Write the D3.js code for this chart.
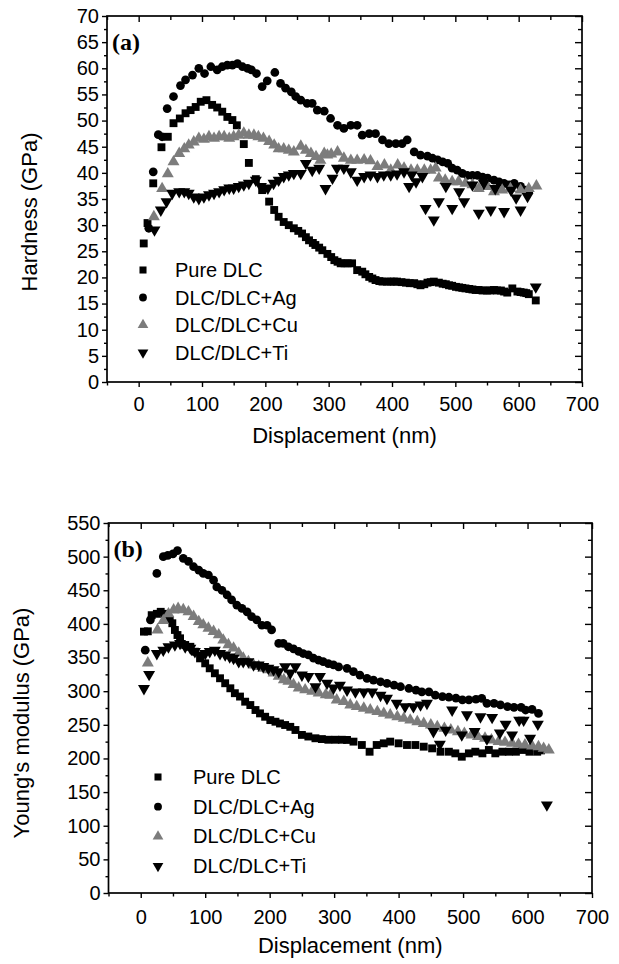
<!DOCTYPE html>
<html><head><meta charset="utf-8">
<script src="https://cdn.jsdelivr.net/npm/d3@7"></script>
<style>body{margin:0;background:#fff;} svg{display:block;}</style>
</head><body>
<svg id="c" width="619" height="964"></svg>
<script>
// ---------- data ----------
const seriesNames = ["Pure DLC", "DLC/DLC+Ag", "DLC/DLC+Cu", "DLC/DLC+Ti"];
const xTickValues = [0, 100, 200, 300, 400, 500, 600, 700];
const xMinorValues = [-50, 50, 150, 250, 350, 450, 550, 650];
const hardnessTicks = [0, 5, 10, 15, 20, 25, 30, 35, 40, 45, 50, 55, 60, 65, 70];
const modulusTicks = [0, 50, 100, 150, 200, 250, 300, 350, 400, 450, 500, 550];

// Panel (a): hardness (GPa) vs displacement (nm)
const hPure = [[8,26.5],[14,30.4],[23,38],[36,44.9],[46,46.9],[55,49.5],[65,50.4],[74,51.4],[82,52],[90,52.6],[98,53.6],[107,53.9],[116,53],[124,52.5],[132,51.7],[140,50.7],[148,50.1],[155,49.1],[166,45.5],[174,41.9],[185,38.8],[195,36.7],[206,34.5],[214,32.9],[221,31.6],[229,30.6],[237,30],[245,29.4],[252,28.9],[258,28.4],[264,27.7],[269,27.1],[275,26.6],[279,26.2],[285,25.7],[290,25.2],[298,24.5],[304,23.9],[309,23.3],[314,23],[319,22.7],[325,22.7],[330,22.7],[337,22.7],[345,21.4],[353,21.1],[358,20.6],[364,20.1],[369,19.8],[374,19.5],[380,19.3],[385,19.2],[392,19.2],[398,19.2],[403,19.2],[408,19.2],[415,19.1],[422,19],[428,18.9],[435,18.9],[440,18.7],[445,18.5],[451,18.7],[456,19],[461,19.1],[466,19.2],[474,19],[480,18.8],[485,18.7],[490,18.5],[495,18.4],[501,18.2],[506,18.1],[511,18],[516,17.9],[522,17.8],[527,17.7],[532,17.6],[537,17.6],[543,17.5],[550,17.5],[555,17.5],[561,17.6],[566,17.5],[572,17.5],[577,17.3],[582,17.1],[590,17.9],[598,17.3],[603,17.2],[608,17.1],[612,17],[616,16.8],[627,15.6]];
const hAg = [[16,29.4],[23,40.2],[31,47.3],[37,46.9],[45,52.3],[55,54.6],[66,56.7],[74,57.8],[85,58.7],[95,60],[104,59],[114,60.3],[124,59.7],[132,60.3],[140,60.6],[148,60.6],[156,60.9],[164,60.3],[172,60],[178,59.7],[186,59],[195,56.5],[203,57.6],[215,59.2],[224,57.1],[232,56.2],[241,55.5],[248,54.6],[256,53.9],[266,53.3],[274,53.3],[282,52],[293,51.8],[303,50.4],[314,49.1],[324,48.5],[335,49.1],[345,49.1],[353,47.2],[364,47.5],[374,47.5],[385,46.3],[395,45.6],[406,45.6],[416,45.6],[424,46.3],[435,44],[445,43.4],[456,43.2],[464,42.8],[472,42.5],[480,42.1],[488,41.8],[495,40.9],[503,40.5],[511,39.9],[519,39.5],[527,39.5],[535,39.5],[543,39.2],[551,39],[561,38.6],[569,38.3],[577,38],[585,37.7],[593,38],[603,37.4],[611,36.7],[616,36.4]];
const hCu = [[24,31.6],[37,37],[46,39.8],[55,42.1],[64,43.7],[72,44.6],[79,45.3],[87,45.9],[95,46.6],[103,46.4],[111,46.9],[119,46.6],[127,46.9],[135,46.9],[143,46.6],[150,46.9],[158,47.2],[166,47.6],[174,47.2],[182,47.2],[189,46.9],[197,46.6],[206,46],[214,45.3],[221,44.6],[229,44.6],[237,44.3],[245,44],[256,45.1],[264,44.3],[272,43.7],[280,43.1],[287,42.4],[293,43.7],[298,43.4],[304,43.6],[314,44],[324,42.8],[335,42.4],[345,42.4],[356,42.5],[366,42.3],[377,41.2],[388,41.5],[398,40.5],[409,41.5],[419,40.9],[430,40.5],[440,40.5],[451,40.5],[461,40.5],[469,40.9],[474,39],[484,38.6],[495,38.3],[505,38.3],[516,38],[527,37.7],[537,37],[551,37.4],[561,36.4],[574,36.7],[587,37],[603,36.7],[616,37],[628,37.5]];
const hTi = [[25,29.1],[35,32.9],[44,34.5],[53,36.1],[64,36.4],[72,36.4],[79,36.1],[87,35.4],[95,35.1],[103,35.4],[111,35.8],[119,36.1],[127,36.4],[135,36.8],[143,37.1],[150,37.1],[158,37.4],[166,37.7],[174,38],[185,38.6],[193,37.4],[204,37.1],[213,38],[221,38.6],[229,39.3],[237,39.6],[245,39.9],[256,39.9],[264,41.8],[274,40.5],[285,40.9],[295,37],[306,39],[313,40.9],[324,40.9],[335,40.2],[345,38.6],[356,39.3],[366,39.6],[377,39.3],[387,39.6],[398,39.6],[408,39.8],[419,40.2],[427,37.4],[431,39.6],[438,38.3],[448,39.3],[453,33.2],[466,31],[474,34.5],[485,37.4],[495,33.2],[506,36.4],[514,34.5],[527,37.7],[537,32.3],[545,38],[556,32.9],[563,37],[577,32.6],[588,36.7],[596,35.2],[603,32.9],[614,35.5],[627,18.2]];

// Panel (b): Young's modulus (GPa) vs displacement (nm)
const ePure = [[5,388.5],[11,389],[17,413],[25,415],[31,418],[37,415],[45,406],[49,401],[53,391],[57,383.5],[61,378.6],[69,368.7],[77,366],[84,358.7],[92,348.8],[100,341.4],[107,334],[115,326.6],[123,319.2],[131,311.8],[139,304.3],[146,297],[154,292],[162,284.4],[170,279.4],[178,272],[185,267],[193,262],[201,257],[209,254.6],[216,252],[224,249.7],[232,247],[240,242.3],[250,235],[260,232.6],[271,230],[281,228.8],[291,227.8],[302,227.8],[312,227.8],[320,227.5],[330,225],[343,220],[355,210],[366,220],[377,222.5],[387,225],[400,222.5],[413,220],[426,220],[439,217.5],[452,215],[465,210],[478,210],[488,207.6],[498,202.6],[509,207.6],[519,210],[530,207.6],[540,212.6],[550,207.6],[561,210],[571,210],[582,210],[592,212.6],[603,210],[615,210],[621,212]];
const eAg = [[7,361],[15,406],[25,475],[35,500],[42,502],[50,504],[57,509],[66,497.5],[74,493],[82,485],[90,480],[97,475],[105,472.7],[113,465],[118,455],[126,450],[134,443],[141,435.6],[149,428],[157,423],[165,418],[172,410.7],[180,406],[188,398],[196,398],[203,391],[214,371],[221,371],[229,366],[237,363],[245,359],[252,356],[260,354],[268,349],[276,346],[283,344],[291,341],[299,339],[307,336],[320,334],[330,329],[340,324],[351,319],[361,316.5],[372,314],[382,311.5],[393,309],[403,306.6],[416,304],[427,301.6],[436,299],[447,299],[457,294],[468,292],[478,291],[489,289.6],[499,287],[509,287],[520,288],[529,289.4],[537,282],[548,282],[558,279.6],[569,277],[579,276],[590,276],[597,272],[607,273],[617,267]];
const eCu = [[11,342],[26,391],[35,405],[43,415],[51,420.7],[58,423],[66,421],[74,418],[82,411],[90,403.5],[97,398.6],[105,393.6],[113,388.7],[121,383.7],[128,376],[136,369],[144,364],[152,356.7],[159,349],[167,344],[175,339],[183,336.7],[190,334],[198,331.8],[206,326.9],[214,322],[222,317],[229,314.6],[237,309.7],[245,304.7],[255,302],[266,300],[276,297.3],[287,294.8],[294,294],[304,287],[315,284.7],[325,279.5],[335,277],[346,274.6],[356,272],[367,269.6],[377,267],[387,264.6],[398,262],[408,259.6],[418,257],[429,254.6],[439,252],[450,249.7],[460,247.2],[471,244.7],[481,242.3],[492,239.8],[502,237.3],[513,234.8],[523,232.4],[534,230],[544,227.4],[555,225],[565,224],[576,222.5],[586,221],[596,220],[607,218.5],[617,217.5],[625,215],[633,212.6]];
const eTi = [[5,304],[13,325],[25,356],[35,361],[43,366],[53,368.7],[61,371],[69,366],[77,364],[84,359],[92,354],[100,356],[107,359],[115,361],[123,356],[131,354],[138,351],[144,349],[152,344],[159,344],[167,344],[175,339],[183,339],[190,336.7],[198,334],[206,332],[214,329],[224,336.4],[232,327],[240,336.4],[250,324],[260,322],[271,306.7],[278,322],[289,312],[299,304.7],[309,309],[320,301.8],[333,299],[346,299],[359,299],[372,294],[382,289.4],[397,282],[410,277],[423,277],[434,279.6],[444,282],[454,240],[464,221],[473,242],[483,272],[498,235],[506,265],[518,240],[527,262],[537,229],[545,261],[557,238],[566,251],[576,235],[587,257],[594,257],[604,230],[616,251],[630,131]];

// ---------- drawing ----------
const svg = d3.select("#c");
const FONT = "'Liberation Sans', Arial, Helvetica, sans-serif";
const GRAY = "#7c7c7c";

const markerDefs = [
  {type: d3.symbolSquare, size: 62, fill: "#000", rot: 0},
  {type: d3.symbolCircle, size: 60, fill: "#000", rot: 0},
  {type: d3.symbolTriangle, size: 62, fill: GRAY, rot: 0},
  {type: d3.symbolTriangle, size: 62, fill: "#000", rot: 180}
];

function drawPanel(p) {
  const x = d3.scaleLinear().domain([-50, 700]).range([p.left, p.right]);
  const y = d3.scaleLinear().domain([0, p.yMax]).range([p.bottom, p.top]);
  const g = svg.append("g");

  function styleAxis(sel) {
    sel.select(".domain").remove();
    sel.selectAll("line").attr("stroke", "#000").attr("stroke-width", 1.4);
    sel.selectAll("text").attr("font-family", FONT).attr("font-size", 20).attr("fill", "#000");
  }

  const minorY = p.yTicks.slice(0, -1).map(v => v + p.yMinorStep);

  // bottom
  g.append("g").attr("transform", `translate(0,${p.bottom})`)
    .call(d3.axisBottom(x).tickValues(xTickValues).tickSize(5).tickPadding(p.xPad).tickSizeOuter(0))
    .call(styleAxis);
  g.append("g").attr("transform", `translate(0,${p.bottom})`)
    .call(d3.axisBottom(x).tickValues(xMinorValues).tickSize(3.5).tickFormat("").tickSizeOuter(0))
    .call(styleAxis);
  // top (inward)
  g.append("g").attr("transform", `translate(0,${p.top})`)
    .call(d3.axisTop(x).tickValues(xTickValues).tickSize(-6).tickFormat("").tickSizeOuter(0))
    .call(styleAxis);
  g.append("g").attr("transform", `translate(0,${p.top})`)
    .call(d3.axisTop(x).tickValues(xMinorValues).tickSize(-4).tickFormat("").tickSizeOuter(0))
    .call(styleAxis);
  // left
  g.append("g").attr("transform", `translate(${p.left},0)`)
    .call(d3.axisLeft(y).tickValues(p.yTicks).tickSize(5).tickPadding(3).tickSizeOuter(0))
    .call(styleAxis);
  g.append("g").attr("transform", `translate(${p.left},0)`)
    .call(d3.axisLeft(y).tickValues(minorY).tickSize(3).tickFormat("").tickSizeOuter(0))
    .call(styleAxis);
  // right (inward)
  g.append("g").attr("transform", `translate(${p.right},0)`)
    .call(d3.axisRight(y).tickValues(p.yTicks).tickSize(-7).tickFormat("").tickSizeOuter(0))
    .call(styleAxis);
  g.append("g").attr("transform", `translate(${p.right},0)`)
    .call(d3.axisRight(y).tickValues(minorY).tickSize(-4).tickFormat("").tickSizeOuter(0))
    .call(styleAxis);

  // frame
  g.append("rect").attr("x", p.left).attr("y", p.top)
    .attr("width", p.right - p.left).attr("height", p.bottom - p.top)
    .attr("fill", "none").attr("stroke", "#000").attr("stroke-width", 1.7);

  // data
  p.data.forEach((series, i) => {
    const m = markerDefs[i];
    const sym = d3.symbol().type(m.type).size(m.size);
    g.append("g").selectAll("path").data(series).join("path")
      .attr("d", sym)
      .attr("transform", d => `translate(${x(d[0])},${y(d[1])}) rotate(${m.rot})`)
      .attr("fill", m.fill);
  });

  // legend
  seriesNames.forEach((name, i) => {
    const m = markerDefs[i];
    const cy = p.legY + i * p.legStep;
    g.append("path").attr("d", d3.symbol().type(m.type).size(m.size * 0.8)())
      .attr("transform", `translate(${p.legX},${cy}) rotate(${m.rot})`)
      .attr("fill", m.fill);
    g.append("text").attr("x", p.legTX).attr("y", cy + 7)
      .attr("font-family", FONT).attr("font-size", 20).text(name);
  });

  // panel label
  g.append("text").attr("x", p.left + 5).attr("y", p.top + p.labelDy)
    .attr("font-family", "'Liberation Serif', 'Times New Roman', serif")
    .attr("font-weight", "bold").attr("font-size", 24).text(p.label);

  // axis titles
  g.append("text").attr("x", (p.left + p.right) / 2).attr("y", p.xTitleY)
    .attr("text-anchor", "middle").attr("font-family", FONT).attr("font-size", 22)
    .text("Displacement (nm)");
  g.append("text").attr("transform", `translate(${p.yTitleX},${p.yTitleY}) rotate(-90)`)
    .attr("text-anchor", "middle").attr("font-family", FONT).attr("font-size", 22)
    .text(p.yTitle);
}

drawPanel({
  left: 107, right: 582, top: 16, bottom: 382,
  yMax: 70, yTicks: hardnessTicks, yMinorStep: 2.5,
  data: [hPure, hAg, hCu, hTi],
  xPad: 10, legX: 143, legTX: 175, legY: 270, legStep: 27.5,
  label: "(a)", labelDy: 34,
  xTitleY: 443, yTitle: "Hardness (GPa)", yTitleX: 37, yTitleY: 212
});

drawPanel({
  left: 108.5, right: 592, top: 523, bottom: 893,
  yMax: 550, yTicks: modulusTicks, yMinorStep: 25,
  data: [ePure, eAg, eCu, eTi],
  xPad: 12, legX: 158, legTX: 193, legY: 777, legStep: 29.7,
  label: "(b)", labelDy: 34,
  xTitleY: 953, yTitle: "Young's modulus (GPa)", yTitleX: 29, yTitleY: 723
});
</script>
</body></html>
